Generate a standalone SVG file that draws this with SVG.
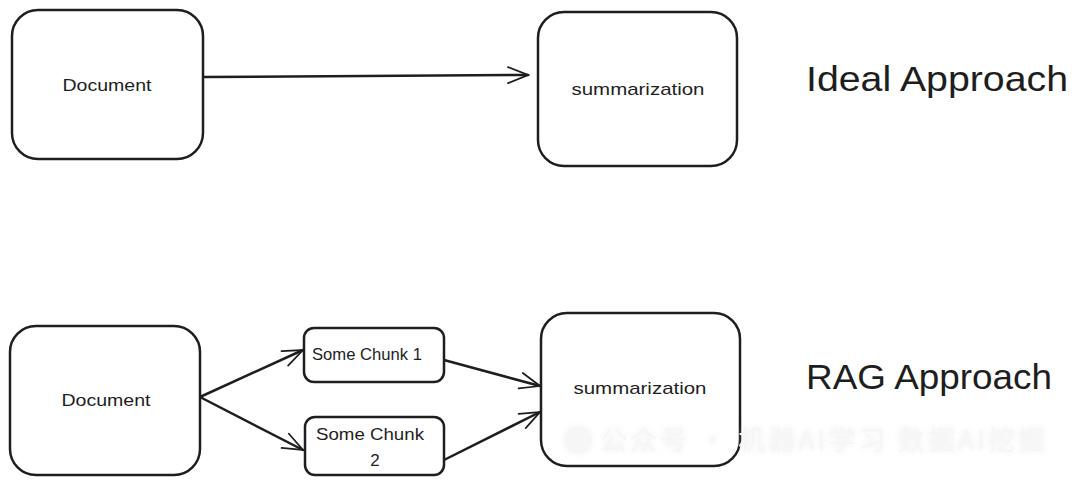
<svg xmlns="http://www.w3.org/2000/svg" width="1080" height="486" viewBox="0 0 1080 486">
<style>
.box{fill:#fff;stroke:#1e1e1e;stroke-width:2.5}
.lbl{font-family:"Liberation Sans",Arial,sans-serif;font-size:17px;fill:#1e1e1e;text-anchor:middle}
.title{font-family:"Liberation Sans",Arial,sans-serif;font-size:35px;fill:#1e1e1e}
.edge{fill:none;stroke:#1e1e1e;stroke-width:2.5;stroke-linecap:round}
.wm{font-family:"Noto Sans CJK SC",sans-serif;font-size:27px;fill:#f6f6f6}
</style>
<defs>
<marker id="ah2" viewBox="0 0 30 30" refX="28" refY="15" markerWidth="24" markerHeight="24" markerUnits="userSpaceOnUse" orient="auto">
<path d="M3,5 L28,15 L3,25" fill="none" stroke="#1e1e1e" stroke-width="2.2" stroke-linecap="round"/>
</marker>
<filter id="sh" x="-10%" y="-50%" width="120%" height="200%"><feDropShadow dx="0" dy="0" stdDeviation="3" flood-color="#ccc" flood-opacity="0.35"/></filter>
</defs>
<g id="connectors">
<path class="edge" d="M203,77 L528,75" marker-end="url(#ah2)"/>
<path class="edge" d="M200,397 L303,350" marker-end="url(#ah2)"/>
<path class="edge" d="M200,397 L303,450" marker-end="url(#ah2)"/>
<path class="edge" d="M444,360 L540,386" marker-end="url(#ah2)"/>
<path class="edge" d="M444,460 L540,412" marker-end="url(#ah2)"/>
</g>
<g id="doc1"><rect class="box" x="12" y="10" width="191" height="149" rx="26"/><text class="lbl" x="107" y="91" textLength="89" lengthAdjust="spacingAndGlyphs">Document</text></g>
<g id="sum1"><rect class="box" x="538" y="12" width="199" height="154" rx="26"/><text class="lbl" x="638" y="95" textLength="133" lengthAdjust="spacingAndGlyphs">summarization</text></g>
<g id="ideal"><text class="title" x="806" y="91" textLength="262" lengthAdjust="spacingAndGlyphs">Ideal Approach</text></g>
<g id="doc2"><rect class="box" x="10" y="326" width="190" height="149" rx="26"/><text class="lbl" x="106" y="406" textLength="89" lengthAdjust="spacingAndGlyphs">Document</text></g>
<g id="chunk1"><rect class="box" x="304" y="328" width="140" height="54" rx="10"/><text class="lbl" x="367" y="360" textLength="110" lengthAdjust="spacingAndGlyphs">Some Chunk 1</text></g>
<g id="chunk2"><rect class="box" x="305" y="417" width="139" height="58" rx="10"/><text class="lbl" x="370" y="440" textLength="108" lengthAdjust="spacingAndGlyphs">Some Chunk</text><text class="lbl" x="375" y="466">2</text></g>
<g id="sum2"><rect class="box" x="541" y="313" width="199" height="153" rx="26"/><text class="lbl" x="640" y="394" textLength="133" lengthAdjust="spacingAndGlyphs">summarization</text></g>
<g id="rag"><text class="title" x="806" y="389" textLength="246" lengthAdjust="spacingAndGlyphs">RAG Approach</text></g>
<g id="watermark" filter="url(#sh)"><circle cx="578" cy="440" r="13" fill="#f6f6f6"/><text class="wm" x="600" y="450" textLength="445" lengthAdjust="spacing">公众号 · 机器AI学习 数据AI挖掘</text></g>
</svg>
